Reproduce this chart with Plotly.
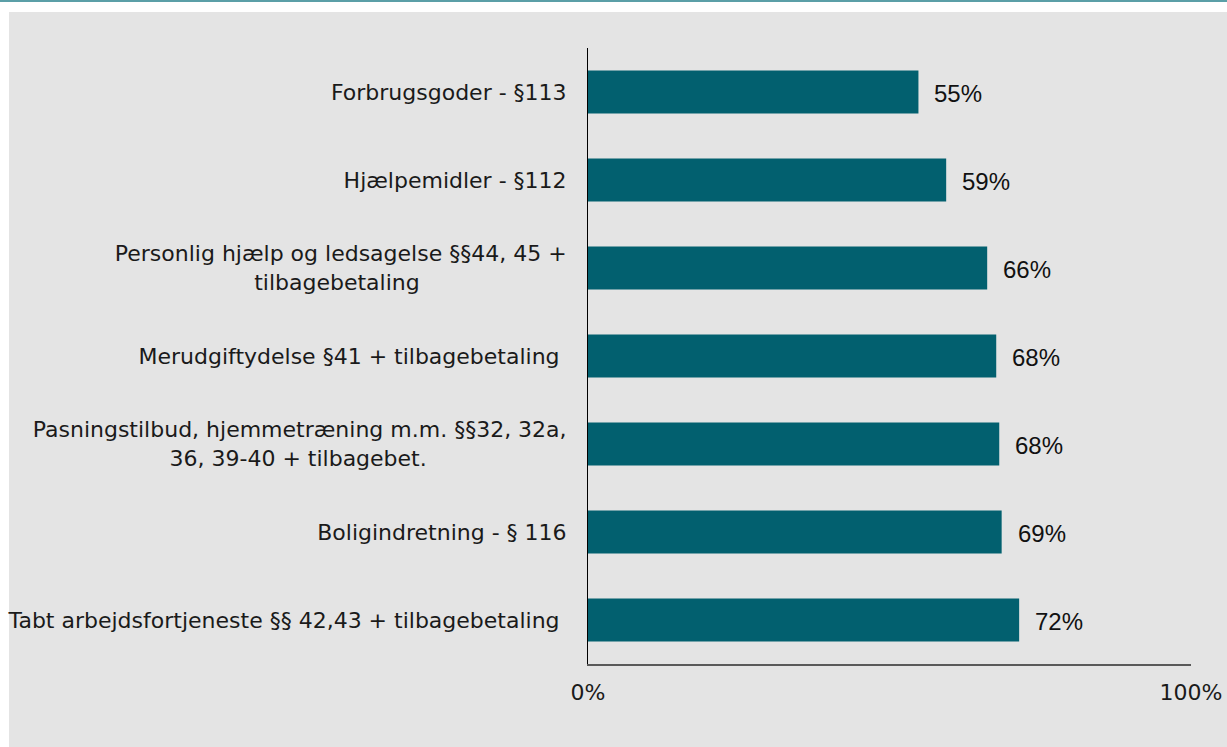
import plotly.graph_objects as go

NB = "\u00a0"

categories = [
    "Forbrugsgoder - §113",
    "Hjælpemidler - §112",
    "Personlig hjælp og ledsagelse §§44, 45 +<br>tilbagebetaling" + NB * 21,
    "Merudgiftydelse §41 + tilbagebetaling" + NB,
    "Pasningstilbud, hjemmetræning m.m. §§32, 32a,<br>36, 39-40 + tilbagebet." + NB * 20,
    "Boligindretning - § 116",
    "Tabt arbejdsfortjeneste §§ 42,43 + tilbagebetaling" + NB,
]
values = [54.8, 59.4, 66.2, 67.7, 68.2, 68.6, 71.5]
x_tickvals = [0, 100]
x_ticktext = ["0%", "100%"]

BAR = "#02606F"
BG = "#E4E4E4"

W, H = 1227, 747
L, R, T, B = 588, 36, 48, 83
pw, ph = W - L - R, H - T - B


def px_to_paper_x(px):
    return (px - L) / pw


def px_to_paper_y(py):
    return (H - B - py) / ph


fig = go.Figure()
fig.add_trace(go.Bar(
    y=categories,
    x=values,
    orientation="h",
    marker=dict(color=BAR, line=dict(width=0)),
    width=0.49,
    hoverinfo="skip",
))

annotations = []
for c, v in zip(categories, values):
    annotations.append(dict(
        x=v, y=c, xref="x", yref="y",
        text=f"{v:.0f}%",
        showarrow=False,
        xanchor="left", yanchor="middle",
        xshift=14, yshift=-1,
        font=dict(family="Liberation Sans, Arial, sans-serif", size=24, color="#111111"),
    ))

shapes = [
    dict(type="rect", xref="paper", yref="paper",
         x0=px_to_paper_x(9), x1=px_to_paper_x(W + 5),
         y0=px_to_paper_y(12), y1=px_to_paper_y(H + 5),
         fillcolor=BG, line=dict(width=0), layer="below"),
    dict(type="line", xref="paper", yref="paper",
         x0=px_to_paper_x(0), x1=px_to_paper_x(W),
         y0=px_to_paper_y(1), y1=px_to_paper_y(1),
         line=dict(color="#5B9FA7", width=2), layer="below"),
]

fig.update_layout(
    width=W, height=H,
    margin=dict(l=L, r=R, t=T, b=B, pad=0, autoexpand=False),
    paper_bgcolor="white",
    plot_bgcolor="rgba(0,0,0,0)",
    showlegend=False,
    bargap=0.51,
    annotations=annotations,
    shapes=shapes,
    font=dict(family="DejaVu Sans, Verdana, sans-serif", size=22, color="#1A1A1A"),
    xaxis=dict(
        range=[0, 100],
        tickvals=x_tickvals,
        ticktext=x_ticktext,
        showgrid=False,
        zeroline=False,
        showline=True,
        linecolor="#595959",
        linewidth=2,
        ticks="inside",
        ticklen=6,
        tickwidth=1,
        tickcolor="#595959",
        ticklabelstandoff=8,
        automargin=False,
        tickfont=dict(family="DejaVu Sans, Verdana, sans-serif", size=22, color="#1A1A1A"),
        fixedrange=True,
    ),
    yaxis=dict(
        autorange="reversed",
        showgrid=False,
        zeroline=False,
        showline=True,
        linecolor="#000000",
        linewidth=1,
        ticks="",
        ticklabelstandoff=16,
        automargin=False,
        tickfont=dict(family="DejaVu Sans, Verdana, sans-serif", size=22, color="#1A1A1A"),
        fixedrange=True,
    ),
)

fig.write_html(
    "out.html",
    config={"displayModeBar": False},
    post_script="document.body.style.margin='0';document.body.style.overflow='hidden';",
)
